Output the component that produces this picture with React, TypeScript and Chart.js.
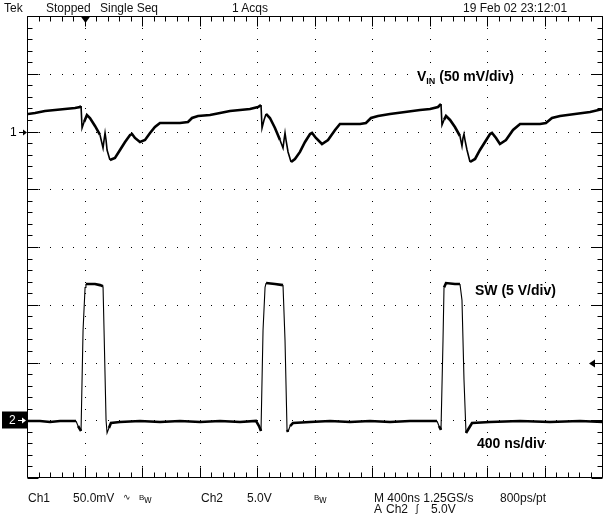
import React, { useEffect, useRef } from "react";
import { Chart, registerables } from "chart.js";

Chart.register(...registerables);

// ---- Data ----
const timeSpanNs = [0, 4000]; // 10 div x 400 ns
const ch1RangeMv = [-300, 100]; // 50 mV/div, ground 2 div above centre
const ch2RangeV = [-5, 35]; // 5 V/div, ground 3 div below centre

const vinTimeNs = [
  0, 49, 118, 188, 257, 327, 362, 369, 376, 390, 410, 431, 466, 501, 522, 529, 536, 543, 550, 570,
  605, 640, 675, 710, 724, 744, 779, 814, 849, 883, 918, 988, 1057, 1113, 1141, 1183, 1266, 1336,
  1405, 1475, 1544, 1600, 1621,
  1628, 1642, 1656, 1683, 1718, 1753, 1774, 1781, 1788, 1795, 1809, 1830, 1857, 1892, 1927, 1962,
  1976, 2003, 2045, 2087, 2136, 2170, 2240, 2310, 2351, 2386, 2435, 2518, 2623, 2727, 2797, 2852,
  2873,
  2880, 2894, 2908, 2936, 2970, 3005, 3019, 3026, 3033, 3040, 3054, 3075, 3110, 3144, 3179, 3214,
  3228, 3256, 3283, 3325, 3374, 3423, 3492, 3562, 3603, 3645, 3701, 3805, 3910, 4000,
];
const vinMv = [
  15.2, 16.0, 17.7, 18.6, 19.5, 20.3, 21.2, 22.1, 3.0, 8.2, 14.3, 11.7, 4.8, -3.0, -14.3, -7.4, -1.3,
  -7.4, -16.0, -24.7, -22.9, -16.0, -9.1, -3.0, -2.2, -5.6, -9.1, -7.4, -1.3, 3.9, 7.4, 7.4, 7.4, 8.2,
  11.7, 13.4, 14.3, 16.0, 17.7, 18.6, 19.5, 21.2, 22.9,
  3.0, 10.0, 15.2, 11.7, 3.0, -7.4, -14.3, -7.4, -1.3, -7.4, -17.7, -26.4, -23.8, -17.7, -9.1, -2.2,
  -1.3, -5.6, -10.8, -7.4, 1.3, 6.5, 6.5, 6.5, 7.4, 11.7, 13.4, 15.2, 16.9, 18.6, 19.5, 21.2, 23.8,
  5.6, 10.0, 13.4, 10.0, 3.9, -3.9, -12.6, -5.6, -2.2, -7.4, -16.0, -26.4, -23.8, -16.0, -9.1, -2.2,
  -1.3, -5.6, -10.8, -7.4, 1.3, 6.5, 6.5, 6.5, 7.4, 11.7, 13.4, 15.2, 16.9, 19.5,
];

const swTimeNs = [
  0, 83, 153, 223, 292, 334, 348, 369, 383, 397, 403, 466, 501, 522, 529, 543, 550, 563, 577, 640,
  779, 918, 1057, 1197, 1336, 1475, 1586, 1607, 1621, 1635, 1649, 1656, 1718, 1774, 1788, 1802,
  1809, 1823, 1843, 1962, 2101, 2240, 2379, 2518, 2657, 2797, 2845, 2859, 2873, 2887, 2894, 2908,
  2970, 3005, 3019, 3033, 3047, 3068, 3089, 3214, 3423, 3631, 3840, 4000,
];
const swVolts = [
  -0.06, -0.06, -0.15, -0.06, -0.06, -0.06, -0.5, -0.93, 7.8, 11.5, 11.8, 11.8, 11.7, 11.6, 7.8, 0.0,
  -1.1, -0.67, -0.24, -0.15, -0.06, -0.15, -0.06, -0.15, -0.06, -0.15, -0.06, -0.5, -0.93, 7.8, 11.5,
  11.88, 11.8, 11.7, 6.9, -0.84, -1.0, -0.5, -0.24, -0.15, -0.06, -0.15, -0.06, -0.15, -0.06, -0.06,
  -0.06, -0.5, -0.84, 6.9, 11.5, 11.88, 11.8, 11.8, 10.4, 3.5, -1.1, -0.67, -0.24, -0.15, -0.06,
  -0.15, -0.06, -0.15,
];

const headerLabels = ["Tek", "Stopped", "Single Seq", "1 Acqs", "19 Feb 02 23:12:01"];
const footerLabels = ["Ch1", "50.0mV", "Ch2", "5.0V", "M 400ns 1.25GS/s", "800ps/pt", "A", "Ch2", "5.0V"];

const zip = (xs: number[], ys: number[]) => xs.map((x, i) => ({ x, y: ys[i] }));

const steepWidth = (flat: number, steep: number) => (ctx: any) => {
  const dx = Math.abs(ctx.p1.x - ctx.p0.x);
  const dy = Math.abs(ctx.p1.y - ctx.p0.y);
  return dy > dx * 2.5 ? steep : flat;
};

const graticule = {
  id: "graticule",
  beforeDatasetsDraw(chart: any) {
    const { ctx, chartArea } = chart;
    const { left, right, top, bottom } = chartArea;
    const dx = (right - left) / 10;
    const dy = (bottom - top) / 8;
    ctx.save();
    ctx.strokeStyle = "#000";
    ctx.fillStyle = "#000";
    ctx.lineWidth = 1;
    const L = Math.round(left) - 0.5;
    const R = Math.round(right) - 0.5;
    const T = Math.round(top) + 0.5;
    const B = Math.round(bottom) - 0.5;
    ctx.beginPath();
    ctx.moveTo(L, T);
    ctx.lineTo(R, T);
    ctx.lineTo(R, B);
    ctx.lineTo(L, B);
    ctx.closePath();
    for (let i = 0; i <= 50; i++) {
      const x = Math.round(left + (i * dx) / 5) - 0.5;
      const len = i % 5 === 0 ? 10 : 5;
      ctx.moveTo(x, T);
      ctx.lineTo(x, T + len);
      ctx.moveTo(x, B);
      ctx.lineTo(x, B - len);
    }
    for (let j = 0; j <= 40; j++) {
      const y = Math.round(top + (j * dy) / 5) + 0.5;
      const len = j % 5 === 0 ? 11 : 5;
      ctx.moveTo(L, y);
      ctx.lineTo(L + len, y);
      ctx.moveTo(R, y);
      ctx.lineTo(R - len, y);
    }
    ctx.stroke();
    for (let i = 1; i < 10; i++) {
      const x = Math.round(left + i * dx) - 1;
      for (let k = 1; k < 40; k++) {
        const y = Math.round(top + (k * dy) / 5);
        ctx.fillRect(x, y, 1, 1);
      }
    }
    for (let j = 1; j < 8; j++) {
      const y = Math.round(top + j * dy);
      for (let k = 1; k < 50; k++) {
        const x = Math.round(left + (k * dx) / 5) - 1;
        ctx.fillRect(x, y, 1, 1);
      }
    }
    ctx.restore();
  },
  afterDraw(chart: any) {
    const { ctx, chartArea, scales } = chart;
    const { left, right, top } = chartArea;
    ctx.save();
    ctx.fillStyle = "#000";
    ctx.strokeStyle = "#000";
    const tx = Math.round(left + (right - left) / 10) - 0.5;
    ctx.beginPath();
    ctx.moveTo(tx - 5, top);
    ctx.lineTo(tx + 5, top);
    ctx.lineTo(tx, top + 7);
    ctx.closePath();
    ctx.fill();
    const y1 = Math.round(scales.y1.getPixelForValue(0)) + 0.5;
    ctx.font = "12px 'Liberation Sans', Arial, sans-serif";
    ctx.textBaseline = "middle";
    ctx.fillText("1", 10, y1);
    ctx.lineWidth = 1;
    ctx.beginPath();
    ctx.moveTo(19, y1);
    ctx.lineTo(26, y1);
    ctx.stroke();
    ctx.beginPath();
    ctx.moveTo(27, y1);
    ctx.lineTo(23, y1 - 3);
    ctx.lineTo(23, y1 + 3);
    ctx.closePath();
    ctx.fill();
    const y2 = Math.round(scales.y2.getPixelForValue(0)) + 0.5;
    ctx.fillRect(2, y2 - 9, 25, 17);
    ctx.fillStyle = "#fff";
    ctx.strokeStyle = "#fff";
    ctx.fillText("2", 9, y2);
    ctx.beginPath();
    ctx.moveTo(18, y2);
    ctx.lineTo(24, y2);
    ctx.stroke();
    ctx.beginPath();
    ctx.moveTo(26, y2);
    ctx.lineTo(22, y2 - 3);
    ctx.lineTo(22, y2 + 3);
    ctx.closePath();
    ctx.fill();
    ctx.fillStyle = "#000";
    ctx.strokeStyle = "#000";
    const yt = Math.round(scales.y2.getPixelForValue(5)) + 0.5;
    ctx.beginPath();
    ctx.moveTo(594, yt);
    ctx.lineTo(600, yt);
    ctx.stroke();
    ctx.beginPath();
    ctx.moveTo(589, yt);
    ctx.lineTo(595, yt - 4);
    ctx.lineTo(595, yt + 4);
    ctx.closePath();
    ctx.fill();
    ctx.restore();
  },
};

const txt: React.CSSProperties = {
  position: "absolute",
  fontFamily: "'Liberation Sans', Arial, sans-serif",
  fontSize: 12,
  lineHeight: "14px",
  color: "#111",
  whiteSpace: "pre",
};
const bold: React.CSSProperties = {
  position: "absolute",
  fontFamily: "'Liberation Sans', Arial, sans-serif",
  fontSize: 14,
  fontWeight: "bold",
  lineHeight: "16px",
  color: "#000",
  whiteSpace: "pre",
};

export default function App() {
  const ref = useRef<HTMLCanvasElement | null>(null);
  useEffect(() => {
    if (!ref.current) return;
    const chart = new Chart(ref.current, {
      type: "line",
      data: {
        datasets: [
          {
            label: "VIN",
            data: zip(vinTimeNs, vinMv),
            yAxisID: "y1",
            borderColor: "#000",
            borderWidth: 2.5,
            segment: { borderWidth: steepWidth(2.6, 1.6) },
            pointRadius: 0,
            tension: 0,
            fill: false,
          },
          {
            label: "SW",
            data: zip(swTimeNs, swVolts),
            yAxisID: "y2",
            borderColor: "#000",
            borderWidth: 2.5,
            segment: { borderWidth: steepWidth(2.6, 1.1) },
            pointRadius: 0,
            tension: 0,
            fill: false,
          },
        ],
      },
      options: {
        animation: false,
        responsive: false,
        maintainAspectRatio: false,
        events: [],
        layout: { padding: { left: 28, top: 16, right: 2, bottom: 43 } },
        plugins: { legend: { display: false }, tooltip: { enabled: false }, title: { display: false } },
        scales: {
          x: { type: "linear", min: timeSpanNs[0], max: timeSpanNs[1], display: false },
          y1: { type: "linear", min: ch1RangeMv[0], max: ch1RangeMv[1], display: false },
          y2: { type: "linear", min: ch2RangeV[0], max: ch2RangeV[1], display: false },
        },
      },
      plugins: [graticule],
    });
    return () => chart.destroy();
  }, []);

  return (
    <div style={{ position: "fixed", left: 0, top: 0, width: 605, height: 521, background: "#fff" }}>
      <canvas ref={ref} width={605} height={521} style={{ position: "absolute", left: 0, top: 0 }} />
      <span style={{ ...txt, left: 4, top: 1 }}>{headerLabels[0]}</span>
      <span style={{ ...txt, left: 46, top: 1 }}>{headerLabels[1]}</span>
      <span style={{ ...txt, left: 100, top: 1 }}>{headerLabels[2]}</span>
      <span style={{ ...txt, left: 232, top: 1 }}>{headerLabels[3]}</span>
      <span style={{ ...txt, left: 463, top: 1 }}>{headerLabels[4]}</span>

      <span style={{ ...txt, left: 28, top: 491 }}>{footerLabels[0]}</span>
      <span style={{ ...txt, left: 73, top: 491 }}>{footerLabels[1]}</span>
      <span style={{ ...txt, left: 123, top: 490, fontSize: 9 }}>∿</span>
      <span style={{ ...txt, left: 139, top: 491 }}>
        <span style={{ fontSize: 8, verticalAlign: "3px" }}>B</span>
        <span style={{ fontSize: 10 }}>w</span>
      </span>
      <span style={{ ...txt, left: 201, top: 491 }}>{footerLabels[2]}</span>
      <span style={{ ...txt, left: 247, top: 491 }}>{footerLabels[3]}</span>
      <span style={{ ...txt, left: 314, top: 491 }}>
        <span style={{ fontSize: 8, verticalAlign: "3px" }}>B</span>
        <span style={{ fontSize: 10 }}>w</span>
      </span>
      <span style={{ ...txt, left: 374, top: 491 }}>{footerLabels[4]}</span>
      <span style={{ ...txt, left: 500, top: 491 }}>{footerLabels[5]}</span>
      <span style={{ ...txt, left: 374, top: 502 }}>{footerLabels[6]}</span>
      <span style={{ ...txt, left: 386, top: 502 }}>{footerLabels[7]}</span>
      <span style={{ ...txt, left: 416, top: 502, fontSize: 10 }}>ʃ</span>
      <span style={{ ...txt, left: 431, top: 502 }}>{footerLabels[8]}</span>

      <span style={{ ...bold, left: 417, top: 68 }}>
        V<span style={{ fontSize: 9, verticalAlign: "-3px" }}>IN</span> (50 mV/div)
      </span>
      <span style={{ ...bold, left: 475, top: 282 }}>SW (5 V/div)</span>
      <span style={{ ...bold, left: 477, top: 435 }}>400 ns/div</span>
    </div>
  );
}
